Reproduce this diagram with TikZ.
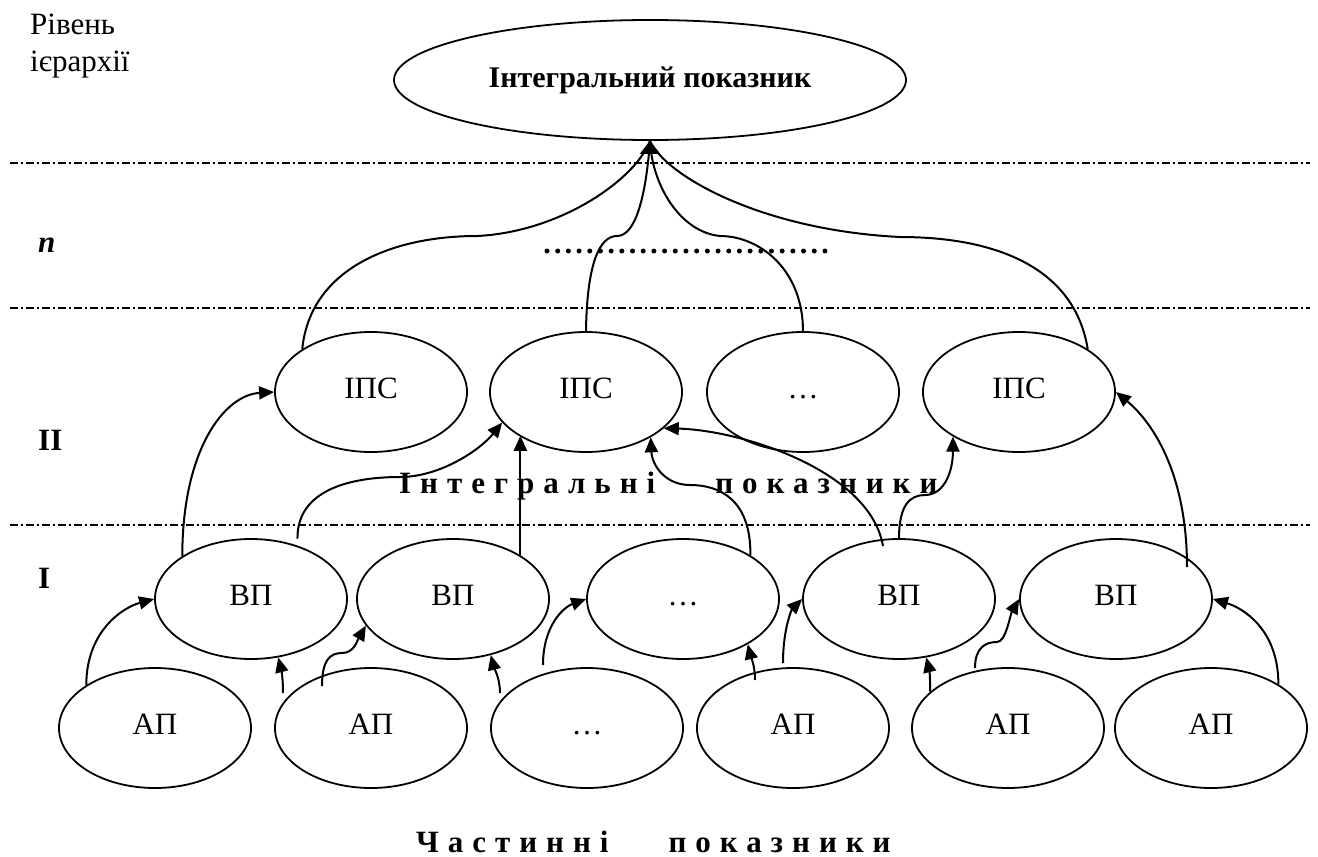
\documentclass[tikz,border=0pt]{standalone}
\usepackage{fontspec}
\setmainfont{Liberation Serif}
\newfontfamily\spacedfont[LetterSpace=29]{Liberation Serif}
\usetikzlibrary{arrows.meta,calc,shapes.geometric}
\begin{document}
\begin{tikzpicture}[x=1pt,y=-1pt,
  every node/.style={font=\fontsize{31}{37}\selectfont},
  ell/.style={draw, ellipse, line width=1.8pt, minimum width=192pt, minimum height=120pt, inner sep=0pt, text height=22pt, text depth=10pt},
  con/.style={line width=2pt},
  arr/.style={line width=2pt, -{Triangle[length=15pt,width=13pt]}},
  lvl/.style={dash pattern=on 8pt off 3pt on 2pt off 3pt, line width=1.4pt},
  lbl/.style={anchor=base west, inner sep=0pt, font=\fontsize{31}{37}\selectfont\bfseries},
  spaced/.style={anchor=base west, inner sep=0pt, font=\fontsize{31}{37}\selectfont\spacedfont\bfseries}
]
\fill[white] (0,0) rectangle (1318,857);
\useasboundingbox (0,0) rectangle (1318,857);

% level separators
\draw[lvl] (10,163) -- (1310,163);
\draw[lvl] (10,308) -- (1310,308);
\draw[lvl] (10,525) -- (1310,525);
\draw[line width=5pt, line cap=round, dash pattern=on 0pt off 10.69pt] (547,251) -- (826,251);

% texts
\node[anchor=north west, align=left, inner sep=0pt] (lev) at (30,14) {Рівень\\ієрархії};
\node[lbl, font=\fontsize{31}{37}\selectfont\bfseries\itshape] (ln) at (38,252) {n};
\node[lbl] (l2) at (38,450) {II};
\node[lbl] (l1) at (38,588) {I};
\node[spaced] (it) at (399,493) {Інтегральні\hspace{60pt}показники};
\node[spaced] (pt) at (416,852) {Частинні\hspace{60pt}показники};

% nodes
\node[draw, ellipse, line width=1.8pt, minimum width=512pt, minimum height=120pt, inner sep=0pt, font=\fontsize{30}{36}\selectfont\bfseries] (T) at (650,80) {Інтегральний показник};

\node[ell] (I1) at (371,392) {ІПС};
\node[ell] (I2) at (586,392) {ІПС};
\node[ell] (I3) at (803,392) {…};
\node[ell] (I4) at (1019,392) {ІПС};

\node[ell] (V1) at (251,599) {ВП};
\node[ell] (V2) at (453,599) {ВП};
\node[ell] (V3) at (683,599) {…};
\node[ell] (V4) at (899,599) {ВП};
\node[ell] (V5) at (1116,599) {ВП};

\node[ell] (A1) at (155,728) {АП};
\node[ell] (A2) at (371,728) {АП};
\node[ell] (A3) at (587,728) {…};
\node[ell] (A4) at (793,728) {АП};
\node[ell] (A5) at (1008,728) {АП};
\node[ell] (A6) at (1211,728) {АП};

% level n -> integral indicator
\draw[con] (I1.148) .. controls (310,270) and (390,236) .. (477,236) .. controls (560,232) and (635,180) .. (T.south);
\draw[con] (I2.north) .. controls (587,262) and (600,236) .. (617,236) .. controls (636,236) and (646,195) .. (T.south);
\draw[con] (I3.north) .. controls (803,270) and (760,236) .. (720,236) .. controls (680,232) and (652,185) .. (T.south);
\draw[con] (I4.32) .. controls (1075,270) and (1000,237) .. (900,237) .. controls (760,230) and (665,175) .. (T.south);
\draw[line width=2pt, -{Triangle[length=13pt,width=20pt]}] ($(T.south)+(0,12)$) -- (T.south);

% level I -> level II
\draw[arr] (V1.148) .. controls +(0,-106) and +(-50,3) .. (I1.west);
\draw[arr] ($(V1.49)+(0,-7)$) .. controls (297,490) and (350,477) .. (400,477) .. controls (440,477) and (480,450) .. (I2.200);
\draw[arr] (V2.33) -- (V2.33 |- I2.213);
\draw[arr] (V3.33) .. controls (751,500) and (720,485) .. (690,485) .. controls (665,485) and (652,465) .. (I2.325);
\draw[arr] ($(V4.north)+(-16,8)$) .. controls (870,470) and (740,430) .. (I2.335);
\draw[arr] (V4.north) .. controls (899,505) and (910,495) .. (925,495) .. controls (945,495) and (953,470) .. (I4.214);
\draw[arr] ($(V5.north)+(71,29)$) .. controls (1187,470) and (1150,420) .. (I4.east);

% partial -> level I
\draw[arr] (A1.148) .. controls +(0,-55) and +(-30,8) .. (V1.west);
\draw[arr] ($(A2)+(-88,-35)$) .. controls +(0,-15) and +(3,12) .. (V1.295);
\draw[arr] ($(A2.north)+(-49,19)$) .. controls (322,660) and (330,653) .. (342,653) .. controls (354,653) and (357,641) .. (V2.197);
\draw[arr] ($(A3)+(-87,-35)$) .. controls +(0,-15) and +(3,12) .. (V2.304);
\draw[arr] ($(A3)+(-44,-63)$) .. controls +(0,-40) and +(-22,8) .. (V3.west);
\draw[arr] ($(A4)+(-38,-48)$) .. controls +(0,-15) and +(3,12) .. (V3.325);
\draw[arr] ($(A4)+(-10,-65)$) .. controls +(0,-35) and +(-10,10) .. (V4.west);
\draw[arr] (A5.155) .. controls +(0,-15) and +(3,12) .. (V4.295);
\draw[arr] ($(A5)+(-33,-60)$) .. controls (975,648) and (985,642) .. (997,642) .. controls (1006,642) and (1010,615) .. (V5.west);
\draw[arr] (A6.33) .. controls +(0,-55) and +(30,9) .. (V5.east);
\end{tikzpicture}
\end{document}
